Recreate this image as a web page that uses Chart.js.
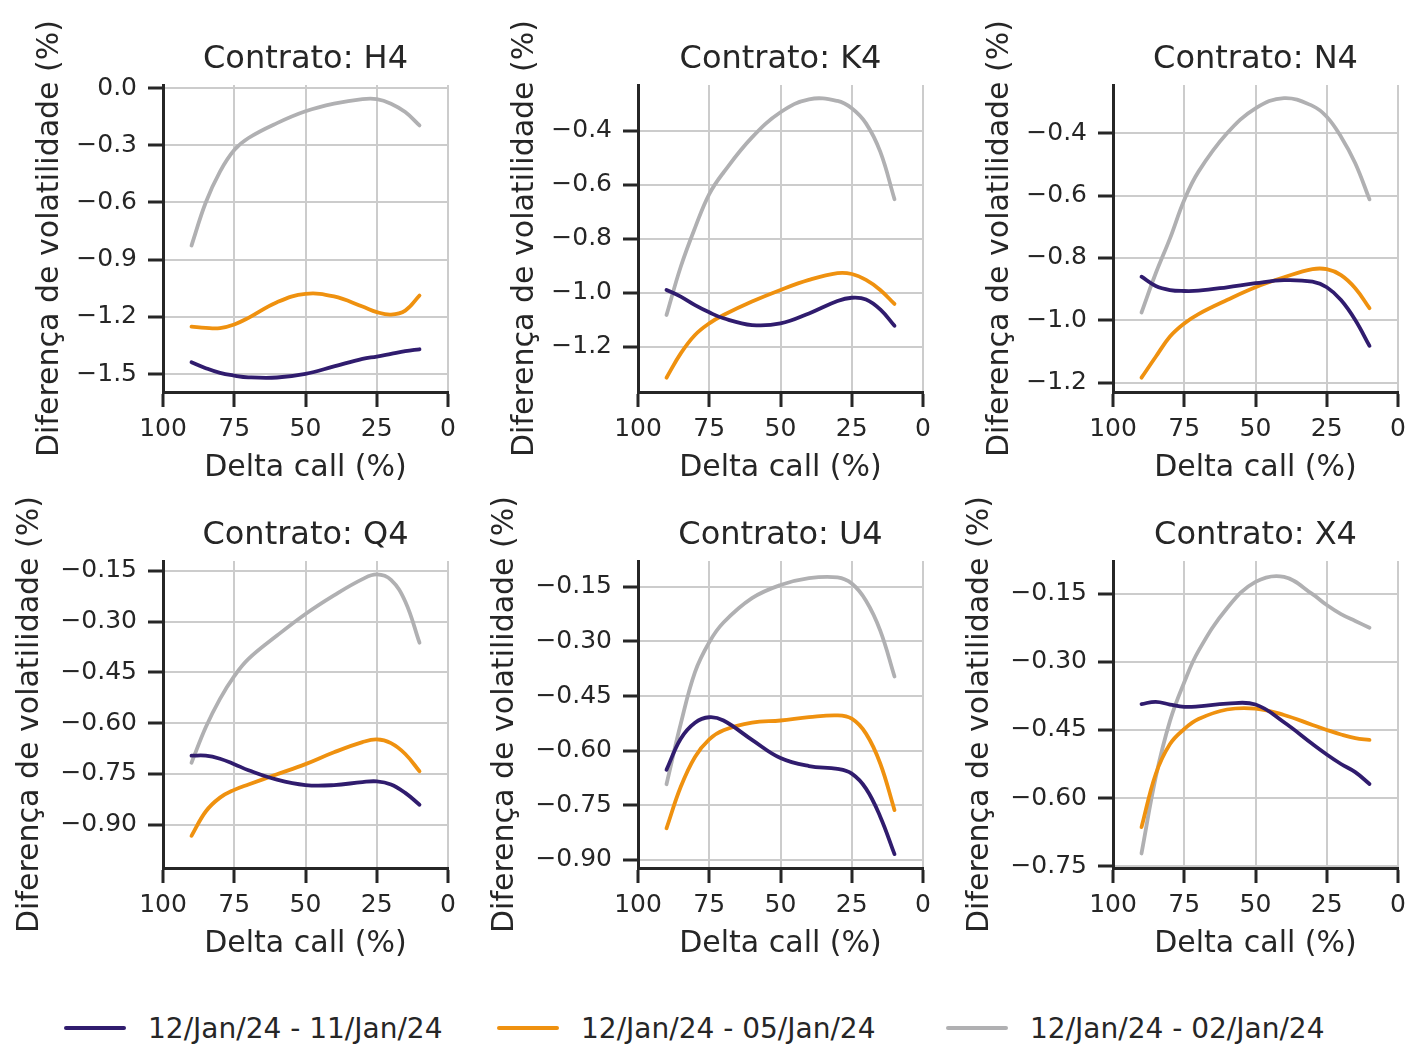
<!DOCTYPE html>
<html>
<head>
<meta charset="utf-8">
<script src="https://cdn.jsdelivr.net/npm/chart.js@4.4.1/dist/chart.umd.min.js"></script>
<style>
  body { margin: 0; background: #fff; width: 1423px; height: 1057px; overflow: hidden; position: relative; font-family: "DejaVu Sans", sans-serif; color: #262626; }
  canvas { position: absolute; }
  .legend-item { position: absolute; top: 1011px; height: 34px; display: flex; align-items: center; font-size: 28px; white-space: nowrap; }
  .legend-item .swatch { display: inline-block; width: 62px; height: 4px; margin-right: 22px; border-radius: 2px; }
</style>
</head>
<body>
<div id="charts"></div>
<div id="legend"></div>
<script>
// delta call (%) where the curves are read
const deltaCall = [90, 85, 80, 75, 70, 60, 50, 40, 30, 25, 20, 15, 10];

const seriesNames = ["12/Jan/24 - 11/Jan/24", "12/Jan/24 - 05/Jan/24", "12/Jan/24 - 02/Jan/24"];
const seriesColors = ["#301c6e", "#ef910f", "#b0b0b2"];

const contracts = ["H4", "K4", "N4", "Q4", "U4", "X4"];

// H4
const h4Day = [-1.438, -1.469, -1.494, -1.508, -1.517, -1.518, -1.499, -1.460, -1.420, -1.408, -1.394, -1.380, -1.370];
const h4Week = [-1.251, -1.258, -1.259, -1.240, -1.205, -1.123, -1.079, -1.093, -1.146, -1.175, -1.188, -1.167, -1.088];
const h4TenDays = [-0.826, -0.600, -0.438, -0.325, -0.262, -0.184, -0.122, -0.082, -0.058, -0.058, -0.082, -0.126, -0.196];
// K4
const k4Day = [-0.990, -1.015, -1.046, -1.073, -1.095, -1.120, -1.114, -1.077, -1.031, -1.019, -1.025, -1.062, -1.123];
const k4Week = [-1.315, -1.225, -1.157, -1.114, -1.083, -1.033, -0.990, -0.953, -0.928, -0.931, -0.953, -0.990, -1.042];
const k4TenDays = [-1.083, -0.904, -0.760, -0.635, -0.555, -0.425, -0.332, -0.284, -0.290, -0.317, -0.373, -0.478, -0.654];
// N4
const n4Day = [-0.860, -0.890, -0.903, -0.906, -0.905, -0.894, -0.881, -0.871, -0.876, -0.894, -0.935, -0.999, -1.082];
const n4Week = [-1.184, -1.117, -1.052, -1.010, -0.980, -0.935, -0.894, -0.862, -0.836, -0.836, -0.855, -0.897, -0.961];
const n4TenDays = [-0.975, -0.849, -0.737, -0.614, -0.523, -0.400, -0.320, -0.287, -0.312, -0.347, -0.411, -0.496, -0.612];
// Q4
const q4Day = [-0.696, -0.696, -0.705, -0.721, -0.739, -0.767, -0.783, -0.783, -0.774, -0.772, -0.781, -0.806, -0.841];
const q4Week = [-0.933, -0.861, -0.820, -0.797, -0.781, -0.751, -0.721, -0.686, -0.656, -0.648, -0.659, -0.691, -0.742];
const q4TenDays = [-0.717, -0.612, -0.528, -0.461, -0.410, -0.341, -0.277, -0.222, -0.174, -0.160, -0.176, -0.240, -0.362];
// U4
const u4Day = [-0.652, -0.567, -0.523, -0.508, -0.517, -0.570, -0.620, -0.642, -0.650, -0.663, -0.704, -0.781, -0.884];
const u4Week = [-0.813, -0.699, -0.617, -0.569, -0.544, -0.523, -0.517, -0.508, -0.503, -0.512, -0.553, -0.635, -0.763];
const u4TenDays = [-0.692, -0.526, -0.384, -0.302, -0.248, -0.181, -0.145, -0.126, -0.124, -0.141, -0.188, -0.270, -0.396];
// X4
const x4Day = [-0.393, -0.388, -0.394, -0.399, -0.398, -0.392, -0.394, -0.433, -0.481, -0.504, -0.525, -0.543, -0.569];
const x4Week = [-0.664, -0.547, -0.481, -0.448, -0.426, -0.405, -0.403, -0.417, -0.439, -0.450, -0.460, -0.468, -0.472];
const x4TenDays = [-0.722, -0.554, -0.430, -0.345, -0.276, -0.182, -0.124, -0.113, -0.151, -0.175, -0.195, -0.210, -0.225];

const xTicks = [100, 75, 50, 25, 0];
const h4Ticks = [0.0, -0.3, -0.6, -0.9, -1.2, -1.5];
const k4Ticks = [-0.4, -0.6, -0.8, -1.0, -1.2];
const n4Ticks = [-0.4, -0.6, -0.8, -1.0, -1.2];
const q4Ticks = [-0.15, -0.30, -0.45, -0.60, -0.75, -0.90];
const u4Ticks = [-0.15, -0.30, -0.45, -0.60, -0.75, -0.90];
const x4Ticks = [-0.15, -0.30, -0.45, -0.60, -0.75];

const yLimits = [
  [-1.594, 0.016],
  [-1.368, -0.231],
  [-1.230, -0.245],
  [-1.028, -0.1205],
  [-0.922, -0.079],
  [-0.754, -0.078],
];

const panelSeries = [
  [h4Day, h4Week, h4TenDays],
  [k4Day, k4Week, k4TenDays],
  [n4Day, n4Week, n4TenDays],
  [q4Day, q4Week, q4TenDays],
  [u4Day, u4Week, u4TenDays],
  [x4Day, x4Week, x4TenDays],
];
const panelTicks = [h4Ticks, k4Ticks, n4Ticks, q4Ticks, u4Ticks, x4Ticks];
const panelDecimals = [1, 1, 1, 2, 2, 2];

const ink = "#262626";
const font = "'DejaVu Sans', sans-serif";
const holder = document.getElementById("charts");

function fmt(v, d) {
  const s = Math.abs(v).toFixed(d);
  return v < -1e-9 ? "\u2212" + s : s;
}

contracts.forEach((name, i) => {
  const col = i % 3;
  const row = Math.floor(i / 3);
  const canvas = document.createElement("canvas");
  canvas.width = 475;
  canvas.height = 492;
  canvas.style.left = col * 475 + "px";
  canvas.style.top = row * 476 + "px";
  holder.appendChild(canvas);

  const ticks = panelTicks[i];
  const dec = panelDecimals[i];

  new Chart(canvas.getContext("2d"), {
    type: "line",
    data: {
      datasets: panelSeries[i].map((vals, k) => ({
        label: seriesNames[k],
        data: vals.map((v, j) => ({ x: deltaCall[j], y: v })),
        borderColor: seriesColors[k],
        borderWidth: 3.8,
        borderCapStyle: "round",
        pointRadius: 0,
        tension: 0.4,
        fill: false,
      })),
    },
    options: {
      responsive: false,
      animation: false,
      devicePixelRatio: 1,
      layout: { padding: { left: 0, right: 27, top: 0, bottom: 0 } },
      plugins: {
        legend: { display: false },
        tooltip: { enabled: false },
        title: {
          display: true,
          text: "Contrato: " + name,
          color: ink,
          fullSize: false,
          font: { family: font, size: 32, weight: "normal", lineHeight: 1.2 },
          padding: { top: 40, bottom: 6.6 },
        },
      },
      scales: {
        x: {
          type: "linear",
          reverse: true,
          min: 0,
          max: 100,
          afterBuildTicks: (s) => { s.ticks = xTicks.map((v) => ({ value: v })); },
          afterFit: (s) => { s.height = 100; },
          grid: { color: "#cccccc", lineWidth: 2, tickLength: 15, tickColor: ink, tickWidth: 3 },
          border: { display: true, color: ink, width: 3 },
          ticks: { color: ink, padding: 7, maxRotation: 0, font: { family: font, size: 25 }, callback: (v) => String(v) },
          title: {
            display: true,
            text: "Delta call (%)",
            color: ink,
            font: { family: font, size: 30, lineHeight: 1.2 },
            padding: { top: 0, bottom: 6 },
          },
        },
        y: {
          type: "linear",
          min: yLimits[i][0],
          max: yLimits[i][1],
          afterBuildTicks: (s) => { s.ticks = ticks.map((v) => ({ value: v })); },
          afterFit: (s) => { s.width = 163; },
          grid: { color: "#cccccc", lineWidth: 2, tickLength: 15, tickColor: ink, tickWidth: 3 },
          border: { display: true, color: ink, width: 3 },
          ticks: { color: ink, padding: 11, font: { family: font, size: 25 }, callback: (v) => fmt(v, dec) },
          title: {
            display: true,
            text: "Diferen\u00e7a de volatilidade (%)",
            color: ink,
            font: { family: font, size: 30, lineHeight: 1.2 },
            padding: { top: row === 0 ? 32 : 12, bottom: 0 },
          },
        },
      },
    },
  });
});

// legend along the bottom
const legend = document.getElementById("legend");
const legendLefts = [64, 497, 946];
seriesNames.forEach((label, k) => {
  const item = document.createElement("div");
  item.className = "legend-item";
  item.style.left = legendLefts[k] + "px";
  item.innerHTML = `<span class="swatch" style="background:${seriesColors[k]}"></span><span>${label}</span>`;
  legend.appendChild(item);
});
</script>
</body>
</html>
